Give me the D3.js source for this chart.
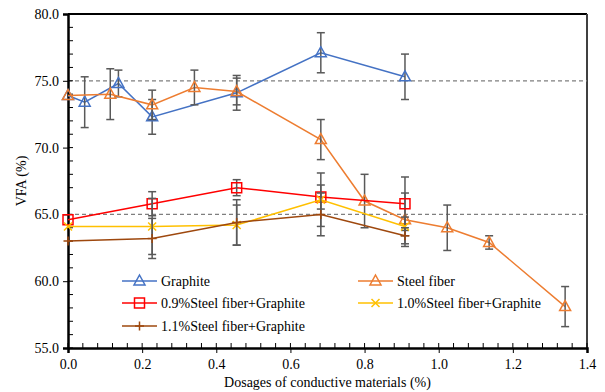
<!DOCTYPE html>
<html>
<head>
<meta charset="utf-8">
<script src="https://cdn.jsdelivr.net/npm/d3@7"></script>
<style>
  html, body { margin: 0; padding: 0; background: #fff; }
  svg { display: block; }
  svg text { font-family: "Liberation Serif", "Times New Roman", serif; }
</style>
</head>
<body>
<svg id="chart" width="605" height="392"></svg>
<script>
// data
var graphiteX = [0, 0.045, 0.136, 0.227, 0.455, 0.682, 0.909];
var graphiteY = [73.9, 73.4, 74.8, 72.3, 74.1, 77.1, 75.3];
var graphiteErr = [0, 1.9, 1.0, 1.3, 1.3, 1.5, 1.7];

var steelX = [0, 0.114, 0.227, 0.341, 0.455, 0.682, 0.8, 0.909, 1.023, 1.136, 1.341];
var steelY = [73.9, 74.0, 73.2, 74.5, 74.2, 70.6, 66.0, 64.6, 64.0, 62.9, 58.1];
var steelErr = [0, 1.9, 1.1, 1.3, 1.0, 1.5, 2.0, 2.0, 1.7, 0.5, 1.5];

var mixX = [0, 0.227, 0.455, 0.682, 0.909];
var mix09Y = [64.6, 65.8, 67.0, 66.3, 65.8];
var mix09Err = [0, 0.9, 0.6, 0.9, 2.0];
var mix10Y = [64.1, 64.1, 64.2, 66.1, 64.1];
var mix10Err = [0, 2.1, 1.5, 2.0, 0.7];
var mix11Y = [63.0, 63.2, 64.4, 65.0, 63.4];
var mix11Err = [0, 1.5, 1.7, 1.6, 0.6];

var refLines = [75, 65];
var xTicks = [0, 0.2, 0.4, 0.6, 0.8, 1.0, 1.2, 1.4];
var yTicks = [55, 60, 65, 70, 75, 80];

var series = [
  { name: "Graphite", x: graphiteX, y: graphiteY, err: graphiteErr, color: "#4472C4", marker: "triangle" },
  { name: "Steel fiber", x: steelX, y: steelY, err: steelErr, color: "#ED7D31", marker: "triangle" },
  { name: "0.9%Steel fiber+Graphite", x: mixX, y: mix09Y, err: mix09Err, color: "#FF0000", marker: "square" },
  { name: "1.0%Steel fiber+Graphite", x: mixX, y: mix10Y, err: mix10Err, color: "#FFC000", marker: "cross" },
  { name: "1.1%Steel fiber+Graphite", x: mixX, y: mix11Y, err: mix11Err, color: "#9E480E", marker: "plus" }
];

var serif = "'Liberation Serif', 'Times New Roman', serif";

function drawChart(svgId) {
  var svg = d3.select(svgId);
  var margin = { top: 14, right: 18, bottom: 44, left: 68 },
    width = 605 - margin.left - margin.right,
    height = 392 - margin.top - margin.bottom,
    g = svg.append("g").attr("transform", "translate(" + margin.left + "," + margin.top + ")");

  var xScale = d3.scaleLinear().domain([0, 1.4]).range([0, width]);
  var yScale = d3.scaleLinear().domain([55, 80]).range([height, 0]);

  // frame (top / right)
  g.append("line").attr("x1", 0).attr("x2", width).attr("y1", 0).attr("y2", 0)
    .attr("stroke", "#000").attr("stroke-width", 2);
  g.append("line").attr("x1", width).attr("x2", width).attr("y1", 0).attr("y2", height)
    .attr("stroke", "#404040").attr("stroke-width", 2);

  // dashed reference lines
  g.selectAll(".ref").data(refLines).enter().append("line")
    .attr("x1", 0).attr("x2", width)
    .attr("y1", function (d) { return yScale(d); })
    .attr("y2", function (d) { return yScale(d); })
    .attr("stroke", "#7f7f7f").attr("stroke-width", 1.2)
    .style("stroke-dasharray", "4, 3");

  // minor ticks (inside)
  var yMinor = d3.range(55, 80.01, 1);
  g.selectAll(".ymin").data(yMinor).enter().append("line")
    .attr("x1", 0).attr("x2", 5)
    .attr("y1", function (d) { return yScale(d); })
    .attr("y2", function (d) { return yScale(d); })
    .attr("stroke", "#000").attr("stroke-width", 1);
  var xMinor = d3.range(0, 1.401, 0.04);
  g.selectAll(".xmin").data(xMinor).enter().append("line")
    .attr("x1", function (d) { return xScale(d); })
    .attr("x2", function (d) { return xScale(d); })
    .attr("y1", height).attr("y2", height - 5)
    .attr("stroke", "#000").attr("stroke-width", 1);

  // axes
  var xAxis = g.append("g")
    .attr("transform", "translate(0," + height + ")")
    .call(d3.axisBottom(xScale).tickValues(xTicks).tickFormat(d3.format(".1f")).tickSize(5).tickPadding(6));
  var yAxis = g.append("g")
    .call(d3.axisLeft(yScale).tickValues(yTicks).tickFormat(d3.format(".1f")).tickSize(5).tickPadding(4));
  [xAxis, yAxis].forEach(function (a) {
    a.attr("font-family", null);
    a.select(".domain").attr("stroke", "#000").attr("stroke-width", 2.5);
    a.selectAll(".tick line").attr("stroke", "#000").attr("stroke-width", 1);
    a.selectAll("text").style("font-size", "14px").attr("fill", "#000")
      .style("font-family", serif);
  });

  var line = d3.line()
    .x(function (d) { return xScale(d.x); })
    .y(function (d) { return yScale(d.y); });

  series.forEach(function (s) {
    var pts = s.x.map(function (x, i) { return { x: x, y: s.y[i], e: s.err[i] }; });

    g.append("path")
      .datum(pts)
      .attr("fill", "none")
      .attr("stroke", s.color)
      .attr("stroke-width", 1.5)
      .attr("d", line);

    // error bars
    var eb = g.selectAll(null).data(pts.filter(function (d) { return d.e > 0; })).enter().append("g")
      .attr("stroke", "#595959").attr("stroke-width", 1.5);
    eb.append("line")
      .attr("x1", function (d) { return xScale(d.x); })
      .attr("x2", function (d) { return xScale(d.x); })
      .attr("y1", function (d) { return yScale(d.y + d.e); })
      .attr("y2", function (d) { return yScale(d.y - d.e); });
    [1, -1].forEach(function (sign) {
      eb.append("line")
        .attr("x1", function (d) { return xScale(d.x) - 4; })
        .attr("x2", function (d) { return xScale(d.x) + 4; })
        .attr("y1", function (d) { return yScale(d.y + sign * d.e); })
        .attr("y2", function (d) { return yScale(d.y + sign * d.e); });
    });

    g.selectAll(null).data(pts).enter().append("path")
      .attr("transform", function (d) { return "translate(" + xScale(d.x) + "," + yScale(d.y) + ")"; })
      .attr("d", markerPath(s.marker))
      .attr("fill", "none")
      .attr("stroke", s.color)
      .attr("stroke-width", 1.5);
  });

  // legend
  var legendItems = [
    { s: series[0], x: 54, y: 267 },
    { s: series[2], x: 54, y: 289 },
    { s: series[4], x: 54, y: 312 },
    { s: series[1], x: 290, y: 267 },
    { s: series[3], x: 290, y: 289 }
  ];
  legendItems.forEach(function (it) {
    var lg = g.append("g").attr("transform", "translate(" + it.x + "," + it.y + ")");
    lg.append("line").attr("x1", 0).attr("x2", 35).attr("y1", 0).attr("y2", 0)
      .attr("stroke", it.s.color).attr("stroke-width", 1.5);
    lg.append("path").attr("transform", "translate(17.5,0)")
      .attr("d", markerPath(it.s.marker))
      .attr("fill", "none").attr("stroke", it.s.color).attr("stroke-width", 1.5);
    lg.append("text").attr("x", 39).attr("y", 5)
      .style("font-size", "14px").style("font-family", serif).attr("fill", "#000")
      .text(it.s.name);
  });

  // axis titles
  svg.append("text")
    .attr("x", margin.left + width / 2).attr("y", 387)
    .attr("text-anchor", "middle").style("font-size", "14px").style("font-family", serif)
    .text("Dosages of conductive materials (%)");
  svg.append("text")
    .attr("transform", "translate(26," + (margin.top + height / 2) + ") rotate(-90)")
    .attr("text-anchor", "middle").style("font-size", "14px").style("font-family", serif)
    .text("VFA (%)");
}

function markerPath(type) {
  switch (type) {
    case "triangle": return "M0,-6L5.5,4L-5.5,4Z";
    case "square": return "M-5,-5H5V5H-5Z";
    case "cross": return "M-4,-4L4,4M-4,4L4,-4";
    case "plus": return "M-4.5,0H4.5M0,-4.5V4.5";
  }
}

drawChart("#chart");
</script>
</body>
</html>
